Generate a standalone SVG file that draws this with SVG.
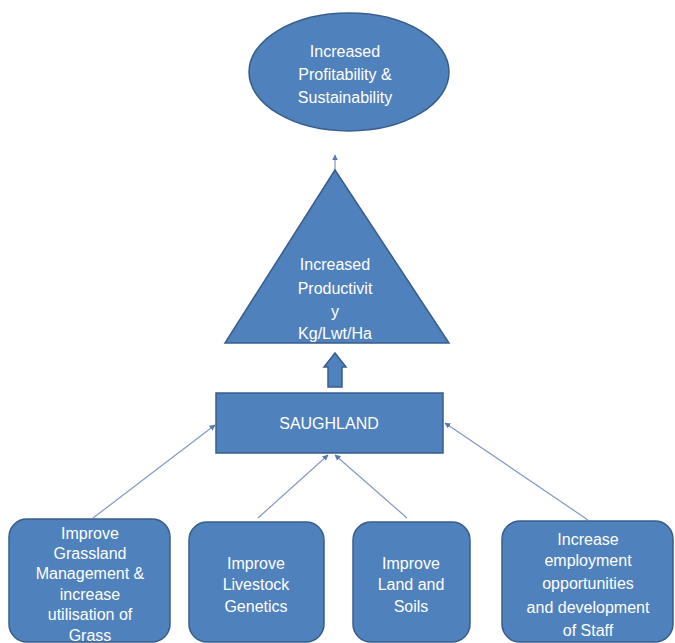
<svg xmlns="http://www.w3.org/2000/svg" width="675" height="643" viewBox="0 0 675 643">
<defs>
<style>
.n{fill:#4f81bd;stroke:#385d8a;stroke-width:1.5}
.t{font-family:"Liberation Sans",Arial,sans-serif;font-size:16px;fill:#ffffff;text-anchor:middle}
.c{stroke:#8297c6;stroke-width:1.2;fill:none}
</style>
<marker id="ah" viewBox="0 0 10 10" refX="9" refY="5" markerWidth="6" markerHeight="6" orient="auto" markerUnits="userSpaceOnUse">
<path d="M0,0 L10,5 L0,10 z" fill="#5a78b0"/>
</marker>
</defs>
<rect width="675" height="643" fill="#ffffff"/>
<g id="connectors">
<line class="c" x1="93" y1="518" x2="215" y2="425" marker-end="url(#ah)"/>
<line class="c" x1="258" y1="518" x2="328" y2="455" marker-end="url(#ah)"/>
<line class="c" x1="407" y1="518" x2="335" y2="455" marker-end="url(#ah)"/>
<line class="c" x1="588" y1="520" x2="445" y2="423" marker-end="url(#ah)"/>
<line class="c" x1="335" y1="170" x2="335" y2="155" marker-end="url(#ah)"/>
<polygon id="blockarrow" class="n" points="328,387 342,387 342,367 346,367 335,353 324,367 328,367"/>
</g>
<g id="goal">
<ellipse class="n" cx="349" cy="72" rx="100" ry="59"/>
<text class="t"><tspan x="345" y="57">Increased</tspan><tspan x="345" y="80">Profitability &amp;</tspan><tspan x="345" y="103">Sustainability</tspan></text>
</g>
<g id="productivity">
<polygon class="n" points="335,170 449,343 225,343"/>
<text class="t"><tspan x="335" y="270">Increased</tspan><tspan x="335" y="294">Productivit</tspan><tspan x="335" y="317">y</tspan><tspan x="335" y="339">Kg/Lwt/Ha</tspan></text>
</g>
<g id="saughland">
<rect class="n" x="216" y="393" width="227" height="60"/>
<text class="t" x="329" y="429">SAUGHLAND</text>
</g>
<g id="grassland">
<rect class="n" x="9" y="519" width="161" height="123" rx="18"/>
<text class="t"><tspan x="90" y="539">Improve</tspan><tspan x="90" y="559">Grassland</tspan><tspan x="90" y="579">Management &amp;</tspan><tspan x="90" y="600">increase</tspan><tspan x="90" y="620">utilisation of</tspan><tspan x="90" y="641">Grass</tspan></text>
</g>
<g id="livestock">
<rect class="n" x="189" y="522" width="135" height="120" rx="18"/>
<text class="t"><tspan x="256" y="569">Improve</tspan><tspan x="256" y="590">Livestock</tspan><tspan x="256" y="612">Genetics</tspan></text>
</g>
<g id="land">
<rect class="n" x="353" y="522" width="117" height="120" rx="18"/>
<text class="t"><tspan x="411" y="569">Improve</tspan><tspan x="411" y="590">Land and</tspan><tspan x="411" y="612">Soils</tspan></text>
</g>
<g id="staff">
<rect class="n" x="502" y="521" width="171" height="121" rx="18"/>
<text class="t"><tspan x="588" y="545">Increase</tspan><tspan x="588" y="566">employment</tspan><tspan x="588" y="589">opportunities</tspan><tspan x="588" y="613">and development</tspan><tspan x="588" y="636">of Staff</tspan></text>
</g>
</svg>
